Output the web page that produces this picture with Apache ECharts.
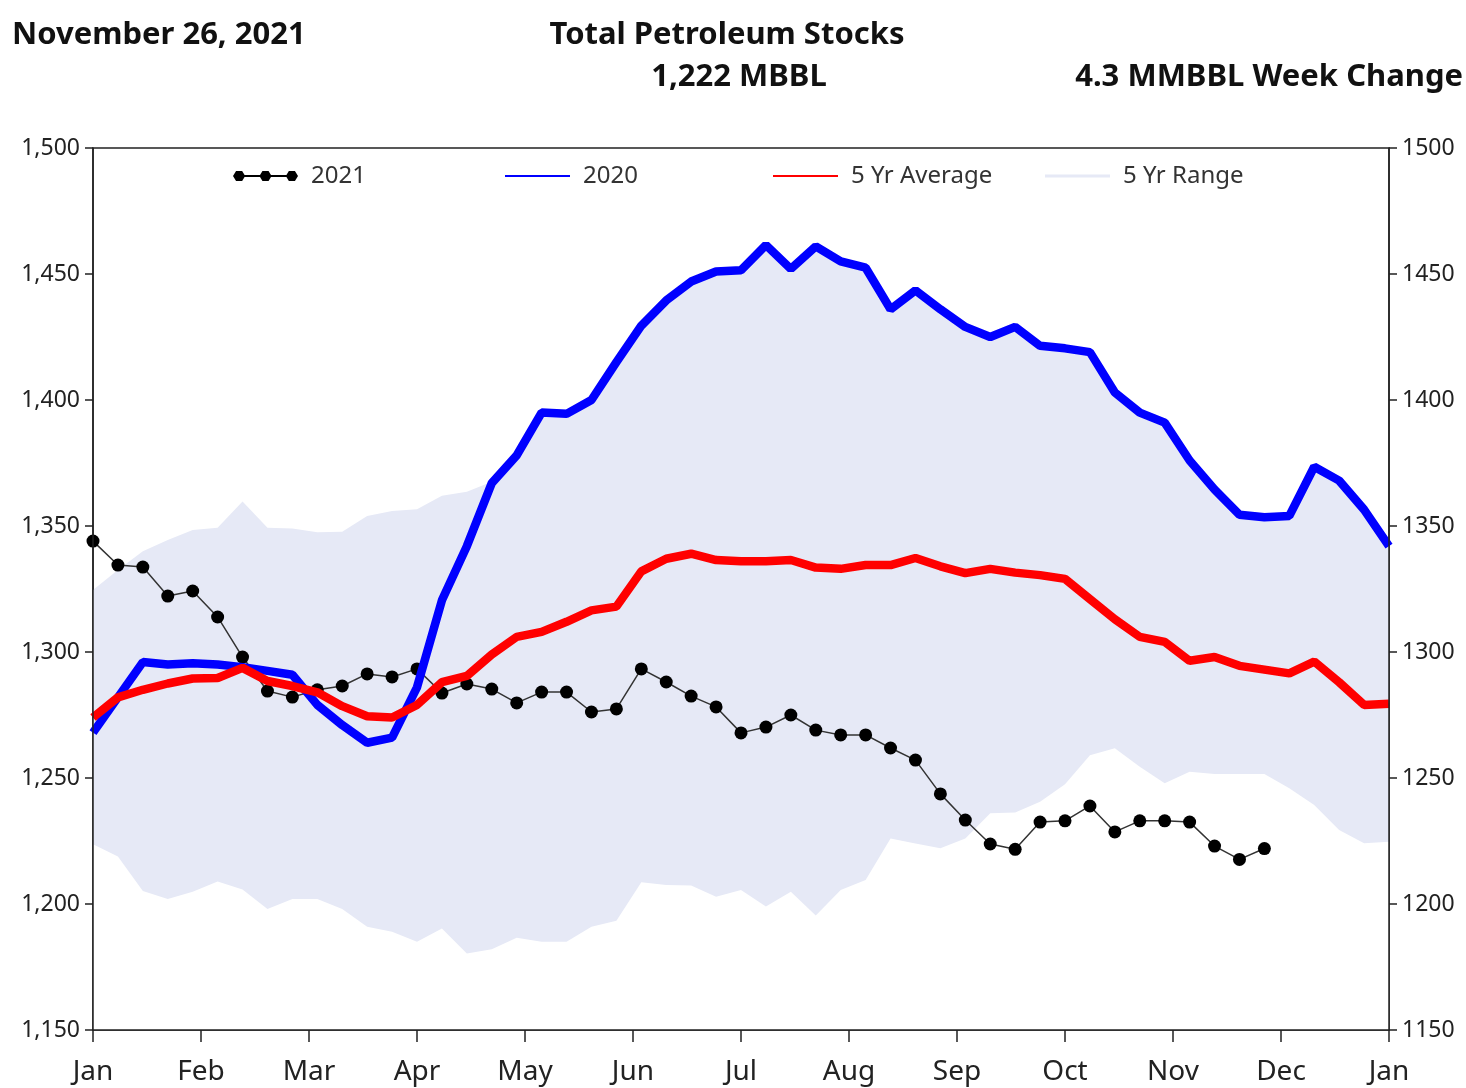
<!DOCTYPE html>
<html>
<head>
<meta charset="utf-8">
<script src="https://cdn.jsdelivr.net/npm/echarts@6/dist/echarts.min.js"></script>
<style>
  html, body { margin: 0; padding: 0; background: #fff; }
  #chart { width: 1466px; height: 1088px; }
</style>
</head>
<body>
<div id="chart"></div>
<script>
// month tick labels (13 ticks, Jan .. Jan)
var months = ["Jan","Feb","Mar","Apr","May","Jun","Jul","Aug","Sep","Oct","Nov","Dec","Jan"];

// weekly stocks, MBBL
var y2021 = [1344, 1334.5, 1333.7, 1322.2, 1324.2, 1313.9, 1298, 1284.5, 1282.1, 1285,
  1286.5, 1291.3, 1290.1, 1293.3, 1283.7, 1287.3, 1285.3, 1279.8, 1284.1, 1284.1,
  1276.2, 1277.4, 1293.3, 1288.1, 1282.5, 1278.2, 1267.9, 1270.2, 1275, 1269,
  1267.1, 1267.1, 1261.9, 1257.1, 1243.7, 1233.3, 1223.8, 1221.7, 1232.5, 1233,
  1238.9, 1228.6, 1233, 1233, 1232.5, 1223, 1217.7, 1222];

var y2020 = [1268, 1282, 1296, 1295, 1295.5, 1295, 1294, 1292.5, 1291, 1279,
  1271, 1264, 1266, 1286, 1320.5, 1342, 1367, 1378, 1395, 1394.5,
  1400, 1415, 1429.5, 1439.5, 1447, 1451, 1451.5, 1461.5, 1452, 1461,
  1455, 1452.5, 1436, 1443.5, 1436, 1429, 1425, 1429, 1421.5, 1420.5,
  1419, 1403, 1395, 1391, 1376, 1364.5, 1354.5, 1353.5, 1354, 1373.5,
  1368, 1356.5, 1342];

var avg5 = [1274, 1282, 1285, 1287.5, 1289.5, 1289.7, 1293.7, 1288.5, 1286.5, 1284,
  1278.5, 1274.5, 1274, 1279, 1288, 1290.5, 1299, 1306, 1308, 1312,
  1316.5, 1318, 1332, 1337, 1339, 1336.5, 1336, 1336, 1336.5, 1333.5,
  1333, 1334.5, 1334.5, 1337.3, 1334, 1331.3, 1333, 1331.5, 1330.5, 1329,
  1321, 1313, 1306, 1304, 1296.5, 1298, 1294.5, 1293, 1291.5, 1296.2,
  1288, 1279, 1279.5];

var rangeMax = [1324.6, 1332.5, 1340, 1344.4, 1348.4, 1349.3, 1359.7, 1349.3, 1349, 1347.5,
  1347.7, 1354, 1356, 1356.6, 1362, 1363.6, 1367.6, 1378, 1395, 1394.5,
  1400, 1415, 1429.5, 1439.5, 1447, 1451, 1451.5, 1461.5, 1452, 1461,
  1455, 1452.5, 1436, 1443.5, 1436, 1429, 1425, 1429, 1421.5, 1420.5,
  1419, 1403, 1395, 1391, 1376, 1364.5, 1354.5, 1353.5, 1354, 1373.5,
  1368, 1356.5, 1342];

var rangeMin = [1223.7, 1218.8, 1205.2, 1202, 1204.9, 1208.9, 1205.8, 1198, 1202, 1202,
  1198, 1191, 1189, 1185, 1190.3, 1180.4, 1182, 1186.6, 1185, 1185,
  1191, 1193.4, 1208.6, 1207.5, 1207.3, 1202.9, 1205.6, 1199, 1204.9, 1195.4,
  1205.6, 1209.5, 1226, 1224, 1222.1, 1226, 1236, 1236.3, 1240.6, 1247.5,
  1259, 1261.8, 1254.5, 1247.9, 1252.5, 1251.6, 1251.6, 1251.6, 1245.9, 1239.3,
  1229.4, 1224.1, 1224.7];

// week index -> month position on the x axis
function pts(arr) {
  return arr.map(function (v, i) { return [i * 12 / 52, v]; });
}

var font = "'Noto Sans', 'Open Sans', sans-serif";
var bandColor = "#e6e9f6";
var dotsIcon = "path://M1,7l3,-5l6,0l3,5l-3,5l-6,0Z M27,7l3,-5l6,0l3,5l-3,5l-6,0Z M53,7l3,-5l6,0l3,5l-3,5l-6,0Z M7,6L59,6L59,8L7,8Z";

var chart = echarts.init(document.getElementById("chart"));

function legendAt(x, name, icon, h) {
  return {
    left: x, top: 159,
    data: [{ name: name, icon: icon }],
    itemWidth: 65, itemHeight: h,
    selectedMode: false,
    textStyle: { fontFamily: font, fontSize: 24, color: "#333", padding: [0, 0, 0, 8] }
  };
}

function titleText(txt, x, y, align) {
  return { type: "text", x: x, y: y,
    style: { text: txt, font: "bold 31px " + font, fill: "#111",
             textAlign: align, textVerticalAlign: "middle" } };
}

var option = {
  animation: false,
  backgroundColor: "#fff",
  graphic: [
    titleText("November 26, 2021", 12, 35, "left"),
    titleText("Total Petroleum Stocks", 727, 35, "center"),
    titleText("1,222 MBBL", 739, 77, "center"),
    titleText("4.3 MMBBL Week Change", 1463, 77, "right")
  ],
  legend: [
    legendAt(228, "2021", dotsIcon, 14),
    legendAt(500, "2020", "rect", 2),
    legendAt(768, "5 Yr Average", "rect", 2),
    legendAt(1040, "5 Yr Range", "rect", 3)
  ],
  grid: {
    left: 93, right: 77, top: 148, bottom: 58,
    show: true, borderColor: "#222", borderWidth: 1.5, backgroundColor: "transparent"
  },
  xAxis: {
    type: "value", min: 0, max: 12, interval: 1, z: 10,
    axisLine: { lineStyle: { color: "#222", width: 1.5 } },
    axisTick: { length: 12, lineStyle: { color: "#222", width: 1.5 } },
    axisLabel: {
      margin: 28, fontSize: 28, fontFamily: font, color: "#222",
      formatter: function (v) { return months[Math.round(v)]; }
    },
    splitLine: { show: false }
  },
  yAxis: [
    {
      type: "value", min: 1150, max: 1500, interval: 50, position: "left", z: 10,
      axisLine: { show: true, lineStyle: { color: "#222", width: 1.5 } },
      axisTick: { show: true, length: 8, lineStyle: { color: "#222", width: 1.5 } },
      axisLabel: {
        margin: 13, fontSize: 23, fontFamily: font, color: "#222",
        formatter: function (v) { return v.toLocaleString("en-US"); }
      },
      splitLine: { show: false }
    },
    {
      type: "value", min: 1150, max: 1500, interval: 50, position: "right", z: 10,
      axisLine: { show: true, lineStyle: { color: "#222", width: 1.5 } },
      axisTick: { show: true, length: 8, lineStyle: { color: "#222", width: 1.5 } },
      axisLabel: {
        margin: 13, fontSize: 23, fontFamily: font, color: "#222",
        formatter: function (v) { return String(v); }
      },
      splitLine: { show: false }
    }
  ],
  series: [
    {
      // top of the 5 yr band, filled down to the axis
      name: "5 Yr Range", type: "line", data: pts(rangeMax),
      symbol: "none", color: bandColor, z: 1,
      lineStyle: { width: 0, opacity: 0 },
      areaStyle: { color: bandColor, opacity: 1, origin: "start" }, silent: true
    },
    {
      // bottom of the 5 yr band, cleared back to white
      name: "rangeLow", type: "line", data: pts(rangeMin),
      symbol: "none", color: "#fff", z: 1,
      lineStyle: { width: 0, opacity: 0 },
      areaStyle: { color: "#fff", opacity: 1, origin: "start" }, silent: true
    },
    {
      name: "2021", type: "line", data: pts(y2021),
      color: "#000", symbol: "circle", symbolSize: 13,
      itemStyle: { color: "#000" },
      lineStyle: { color: "#333", width: 1.5 }, z: 3
    },
    {
      name: "2020", type: "line", data: pts(y2020),
      color: "#0000ff", symbol: "none",
      lineStyle: { color: "#0000ff", width: 8.5 }, z: 4
    },
    {
      name: "5 Yr Average", type: "line", data: pts(avg5),
      color: "#ff0000", symbol: "none",
      lineStyle: { color: "#ff0000", width: 8.5 }, z: 5
    }
  ]
};

chart.setOption(option);
window.onresize = function () { chart.resize(); };
</script>
</body>
</html>
